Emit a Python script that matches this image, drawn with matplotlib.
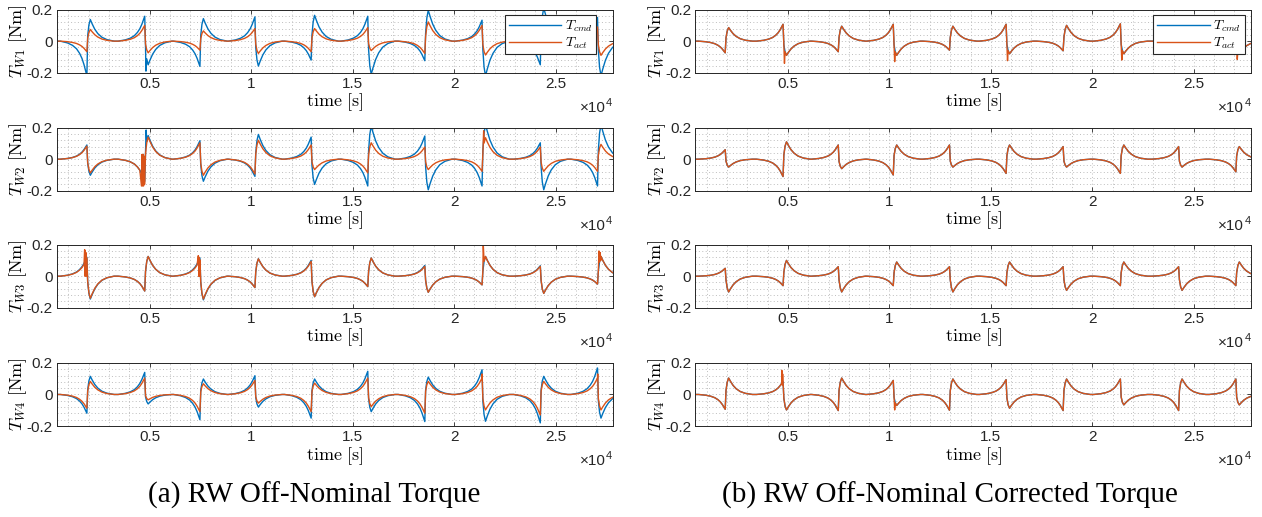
import numpy as np
import matplotlib.pyplot as plt
from matplotlib.ticker import FuncFormatter

plt.rcParams['font.family'] = ['Liberation Sans', 'DejaVu Sans']
plt.rcParams['mathtext.fontset'] = 'cm'
plt.rcParams['axes.unicode_minus'] = False

BLUE = '#0072BD'
ORANGE = '#D95319'
XMIN, XMAX = 440, 27830

# switching instants [s]
event_t = [1950, 4800, 7520, 10230, 13000, 15790, 18600, 21420, 24290, 27110]

# normalised wave shape around one switching event
pre_dt = [-1350, -1000, -750, -550, -400, -280, -180, -100, -40]
pre_shape = [0.0, 0.05, 0.12, 0.22, 0.35, 0.5, 0.68, 0.86, 1.0]
post_dt = [0, 60, 130, 220, 350, 500, 700, 950, 1300]
post_shape = [0.25, 0.75, 1.0, 0.8, 0.55, 0.35, 0.18, 0.07, 0.0]

# (peak before event, peak after event) in Nm, one pair per event
# (a) off-nominal
a_w1_cmd = [(-0.22, 0.137), (0.158, -0.15), (-0.16, 0.143), (0.154, -0.158), (-0.12, 0.164),
            (0.158, -0.21), (-0.124, 0.196), (0.133, -0.22), (-0.15, 0.21), (0.15, -0.22)]
a_w1_act = [(-0.067, 0.074), (0.10, -0.074), (-0.057, 0.065), (0.08, -0.078), (-0.067, 0.08),
            (0.086, -0.06), (-0.078, 0.122), (0.10, -0.088), (-0.08, 0.10), (0.09, -0.09)]
a_w2_cmd = [(0.09, -0.102), (-0.14, 0.15), (0.117, -0.14), (-0.109, 0.157), (0.14, -0.16),
            (-0.17, 0.21), (0.147, -0.194), (-0.17, 0.22), (0.104, -0.194), (-0.17, 0.22)]
a_w2_act = [(0.083, -0.087), (-0.14, 0.14), (0.104, -0.102), (-0.094, 0.12), (0.09, -0.066),
            (-0.087, 0.104), (0.077, -0.066), (-0.077, 0.136), (0.077, -0.077), (-0.077, 0.094)]
a_w3_cmd = [(0.12, -0.145), (-0.094, 0.125), (0.115, -0.15), (-0.072, 0.11), (0.10, -0.13),
            (-0.066, 0.115), (0.068, -0.102), (-0.055, 0.125), (0.066, -0.109), (-0.05, 0.125)]
a_w3_act = [(0.11, -0.14), (-0.094, 0.125), (0.104, -0.145), (-0.072, 0.11), (0.094, -0.13),
            (-0.066, 0.115), (0.062, -0.102), (-0.055, 0.125), (0.062, -0.109), (-0.05, 0.125)]
a_w4_cmd = [(-0.119, 0.115), (0.14, -0.06), (-0.16, 0.098), (0.119, -0.08), (-0.15, 0.098),
            (0.147, -0.109), (-0.172, 0.11), (0.157, -0.17), (-0.18, 0.115), (0.168, -0.15)]
a_w4_act = [(-0.087, 0.083), (0.104, -0.034), (-0.109, 0.068), (0.089, -0.055), (-0.109, 0.072),
            (0.104, -0.077), (-0.119, 0.083), (0.104, -0.098), (-0.13, 0.083), (0.104, -0.098)]

# (b) off-nominal corrected
b_w1_act = [(-0.074, 0.086), (0.107, -0.09), (-0.067, 0.095), (0.107, -0.09), (-0.057, 0.095),
            (0.107, -0.08), (-0.061, 0.10), (0.11, -0.08), (-0.06, 0.10), (0.11, -0.08)]
b_w2_act = [(0.06, -0.05), (-0.11, 0.11), (0.09, -0.06), (-0.10, 0.09), (0.09, -0.05),
            (-0.09, 0.09), (0.08, -0.05), (-0.09, 0.09), (0.08, -0.05), (-0.08, 0.08)]
b_w3_act = [(0.05, -0.10), (-0.06, 0.10), (0.06, -0.10), (-0.06, 0.09), (0.06, -0.10),
            (-0.06, 0.09), (0.06, -0.09), (-0.06, 0.09), (0.06, -0.09), (-0.06, 0.09)]
b_w4_act = [(-0.094, 0.104), (0.083, -0.098), (-0.102, 0.104), (0.089, -0.07), (-0.10, 0.098),
            (0.094, -0.087), (-0.102, 0.098), (0.098, -0.066), (-0.102, 0.098), (0.098, -0.066)]

# short spikes / chatter (time, value)
a_w1_cmd_spk = [(4820, -0.19)]
a_w2_cmd_spk = [(4830, 0.185)]
a_w2_act_spk = [(4600, -0.17), (4625, 0.03), (4650, -0.17), (4675, 0.03), (4700, -0.17),
                (4725, 0.02), (4750, -0.16), (21460, 0.18)]
a_w3_act_spk = [(1800, 0.168), (1815, 0.0), (1830, 0.16), (1845, 0.02), (1860, 0.15),
                (1875, 0.0), (1890, 0.12), (7400, 0.13), (7420, 0.0), (7440, 0.12),
                (7460, 0.0), (21440, 0.20), (27140, 0.16), (27170, 0.09), (27200, 0.15),
                (27230, 0.10)]
a_w4_act_spk = [(21380, 0.13), (27080, 0.13)]
b_w1_act_spk = [(4830, -0.141), (10260, -0.13), (15820, -0.124), (21450, -0.12), (27140, -0.116)]
b_w4_act_spk = [(4700, 0.153), (4720, 0.06), (4740, 0.13), (10260, -0.098)]


def series(pairs, spikes=()):
    t = [XMIN]
    v = [0.0]
    for te, (pre, post) in zip(event_t, pairs):
        t += [te + d for d in pre_dt]
        v += [pre * s for s in pre_shape]
        t += [te + d for d in post_dt]
        v += [post * s for s in post_shape]
    for st, sv in spikes:
        t.append(st)
        v.append(sv)
    t = np.array(t, dtype=float)
    v = np.array(v)
    idx = np.argsort(t, kind='stable')
    return t[idx], v[idx]


left = [
    (a_w1_cmd, a_w1_cmd_spk, a_w1_act, []),
    (a_w2_cmd, a_w2_cmd_spk, a_w2_act, a_w2_act_spk),
    (a_w3_cmd, [], a_w3_act, a_w3_act_spk),
    (a_w4_cmd, [], a_w4_act, a_w4_act_spk),
]
right = [
    (b_w1_act, [], b_w1_act, b_w1_act_spk),
    (b_w2_act, [], b_w2_act, []),
    (b_w3_act, [], b_w3_act, []),
    (b_w4_act, [], b_w4_act, b_w4_act_spk),
]

fig = plt.figure(figsize=(12.62, 5.17), dpi=100)

row_bottom = [0.8594, 0.6311, 0.4048, 0.1760]
row_h = 0.1220
col_left = [0.0452, 0.5510]
col_w = 0.4405

for c, panel in enumerate([left, right]):
    for r, (cmd, cmd_spk, act, act_spk) in enumerate(panel):
        ax = fig.add_axes([col_left[c], row_bottom[r], col_w, row_h])
        tc, vc = series(cmd, cmd_spk)
        ta, va = series(act, act_spk)
        ax.plot(tc, vc, color=BLUE, lw=1.0, label=r'$T_{cmd}$')
        ax.plot(ta, va, color=ORANGE, lw=1.0, label=r'$T_{act}$')

        ax.set_xlim(XMIN, XMAX)
        ax.set_ylim(-0.2, 0.2)
        ax.set_xticks([5000, 10000, 15000, 20000, 25000])
        ax.xaxis.set_major_formatter(FuncFormatter(lambda x, p: '%g' % (x / 1e4)))
        ax.set_yticks([-0.2, 0, 0.2])
        ax.set_yticklabels(['-0.2', '0', '0.2'])
        ax.set_xticks(np.arange(1000, 28000, 1000), minor=True)
        ax.set_yticks(np.arange(-0.16, 0.2, 0.04), minor=True)
        ax.tick_params(which='major', direction='in', top=True, right=True,
                       length=3, width=0.6, labelsize=11, colors='#262626', pad=3)
        ax.tick_params(which='minor', length=0)
        ax.grid(which='both', linestyle=(0, (1, 2.5)), color='#bdbdbd', linewidth=0.7)
        for s in ax.spines.values():
            s.set_color('#262626')
            s.set_linewidth(0.7)

        ax.set_ylabel(r'$T_{W%d}\ [\mathrm{Nm}]$' % (r + 1), fontsize=13)
        ax.yaxis.set_label_coords(-0.05 if c == 0 else -0.049, 0.5)
        ax.set_xlabel(r'$\mathrm{time}\ [\mathrm{s}]$', fontsize=13)
        ax.xaxis.set_label_coords(0.5, -0.30)
        ax.annotate('4', xy=(1, 0), xycoords='axes fraction', xytext=(-0.5, -24),
                    textcoords='offset points', ha='right', va='baseline',
                    fontsize=8, color='#262626')
        ax.annotate('×10', xy=(1, 0), xycoords='axes fraction', xytext=(-5.5, -28),
                    textcoords='offset points', ha='right', va='baseline',
                    fontsize=11, color='#262626')

        if r == 0:
            leg = ax.legend(loc='upper right', bbox_to_anchor=(0.97 if c == 0 else 0.988, 0.91),
                            borderaxespad=0, fontsize=10, handlelength=3.8,
                            labelspacing=0.1, borderpad=0.25, handletextpad=0.25,
                            fancybox=False, framealpha=1)
            leg.get_frame().set_edgecolor('#262626')
            leg.get_frame().set_linewidth(0.8)

fig.text(314 / 1262, 1 - 495 / 517, '(a) RW Off-Nominal Torque', ha='center', va='center',
         fontsize=21, family='Liberation Serif')
fig.text(950 / 1262, 1 - 495 / 517, '(b) RW Off-Nominal Corrected Torque', ha='center', va='center',
         fontsize=21, family='Liberation Serif')

fig.savefig('out.png', dpi=100)
